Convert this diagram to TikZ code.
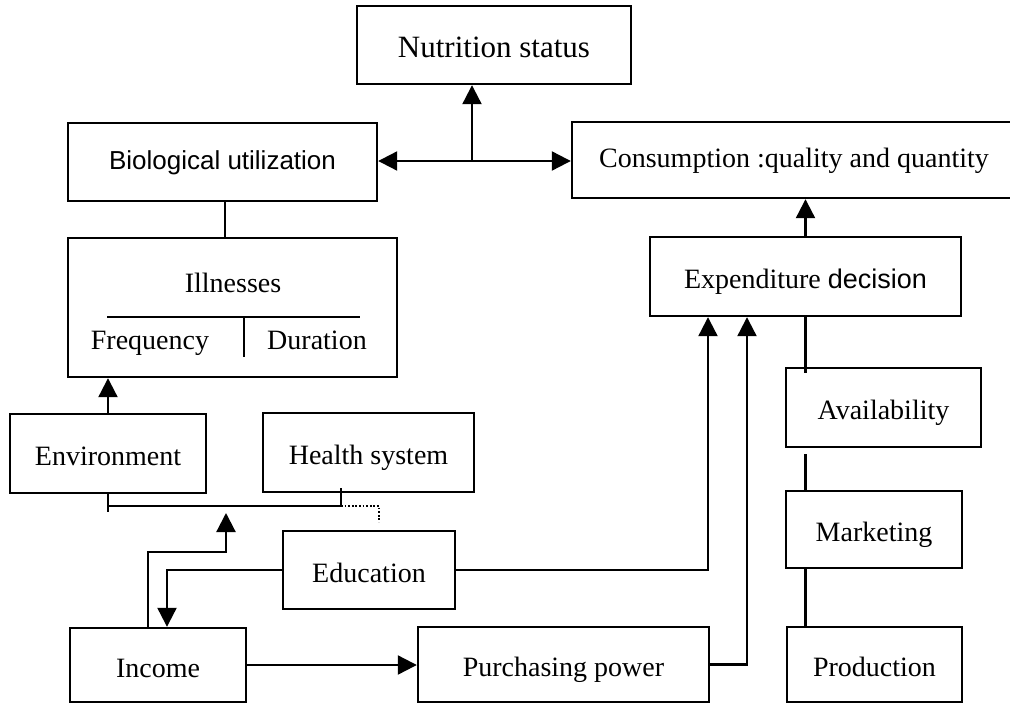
\documentclass[tikz,border=0pt]{standalone}
\usepackage{fontspec}
\setmainfont{Liberation Serif}
\setsansfont{Liberation Sans}
\usetikzlibrary{arrows.meta}
\newcommand\boxfont{\fontsize{28}{32}\selectfont}
\begin{document}
\begin{tikzpicture}[x=1pt, y=-1pt,
    box/.style={rectangle, draw=black, line width=2.4pt, inner sep=0pt, font=\boxfont, align=center, text height=26pt, text depth=2pt},
    topbox/.style={box, text height=20pt, text depth=6pt},
    link/.style={black, line width=2.2pt},
    arr/.style={link, -{Triangle[length=19pt, width=19pt]}}]

    \useasboundingbox (0,0) rectangle (1010,704);

    % Top row
    \node[box, minimum width=274, minimum height=78, font=\fontsize{31}{34}\selectfont] (Nut) at (494,45) {Nutrition status};
    \node[topbox, minimum width=309, minimum height=78, font=\sffamily\fontsize{26}{30}\selectfont] (Bio) at (222.5,162) {Biological utilization};
    \node[topbox, minimum width=444, minimum height=76] (Cons) at (794,160) {Consumption :quality and quantity};
    \coordinate (J) at (472,161);

    % Illnesses block
    \node[box, minimum width=329, minimum height=139] (Ill) at (232.5,307.5) {};
    \node[font=\boxfont] (IllT) at (233,283) {Illnesses};
    \node[font=\boxfont, anchor=base] (Freq) at (150,349) {Frequency};
    \node[font=\boxfont, anchor=base] (Dur) at (317,349) {Duration};
    \draw[link] (107,317) -- (360,317);
    \draw[link] (244,317) -- (244,357);

    % Right column
    \node[box, minimum width=311, minimum height=79] (Exp) at (805.5,276.5) {Expenditure {\sffamily\fontsize{27}{30}\selectfont decision}};
    \node[box, minimum width=195, minimum height=79] (Avail) at (883.5,407.5) {Availability};
    \node[box, minimum width=176, minimum height=77] (Mkt) at (874,529.5) {Marketing};
    \node[box, minimum width=175, minimum height=75] (Prod) at (874.5,664.5) {Production};

    % Lower left
    \node[box, minimum width=196, minimum height=79] (Env) at (108,453.5) {Environment};
    \node[box, minimum width=211, minimum height=79] (Hlth) at (368.5,452.5) {Health system};
    \node[box, minimum width=172, minimum height=78] (Edu) at (369,570) {Education};
    \node[box, minimum width=176, minimum height=74] (Inc) at (158,665) {Income};
    \node[box, minimum width=291, minimum height=75] (Pur) at (563.5,664.5) {Purchasing power};
    \coordinate (HJ) at (341,506);
    \coordinate (Tip) at (226,513);

    % Links at the top
    \draw[arr] (J) -- (J -| Bio.east);
    \draw[arr] (J) -- (J -| Cons.west);
    \draw[arr] (J) -- (J |- Nut.south);
    \draw[link] (Bio.south -| 225,0) -- (Ill.north -| 225,0);
    \draw[arr] (Exp.north) -- (Exp.north |- Cons.south);

    % Supply chain
    \draw[link] (Exp.south) -- ([yshift=-6pt]Exp.south |- Avail.north);
    \draw[link] ([yshift=-6pt]Exp.south |- Avail.south) -- (Exp.south |- Mkt.north);
    \draw[link] (Exp.south |- Mkt.south) -- (Exp.south |- Prod.north);

    % Environment and health system
    \draw[arr] (Env.north) -- (Env.north |- Ill.south);
    \draw[link] (Env.south) -- ([yshift=-6pt]Env.south |- HJ);
    \draw[link] (Env.south |- HJ) -- (HJ) -- ([yshift=5pt]HJ |- Hlth.south);
    \draw[black, line width=1.8pt, dash pattern=on 1.8pt off 1.8pt] (HJ) -- ++(38,0) -- ++(0,16);

    % Income and education
    \draw[arr] (Inc.north -| 148,0) -- (148,552) -| (Tip);
    \draw[arr] (Edu.west) -| (Inc.north -| 167,0);
    \draw[arr] (Inc.east) -- (Inc.east -| Pur.west);
    \draw[arr] (Edu.east) -| (Exp.south -| 708,0);
    \draw[arr] (Pur.east) -| (Exp.south -| 747,0);

\end{tikzpicture}
\end{document}
